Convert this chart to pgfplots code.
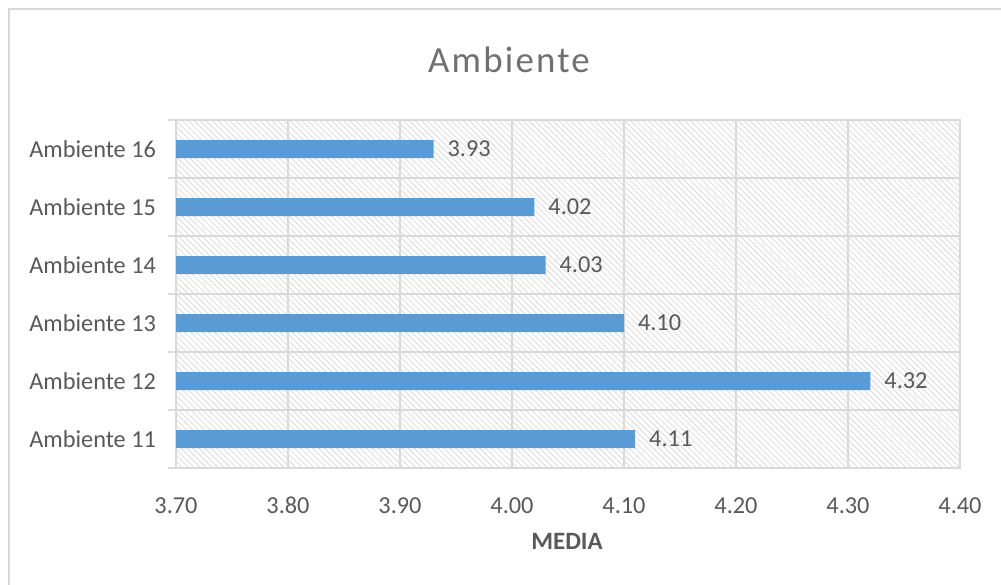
\documentclass[border=0pt]{standalone}
\usepackage{pgfplots}
\pgfplotsset{compat=1.18}
\usepackage{fontspec}
\setmainfont{Carlito}
\usetikzlibrary{patterns}
\definecolor{barblue}{HTML}{5B9BD5}
\definecolor{txt}{HTML}{595959}
\definecolor{titc}{HTML}{707070}
\definecolor{gridc}{HTML}{D9D9D9}
\definecolor{hatch}{HTML}{DCDCDC}
\begin{document}
\begin{tikzpicture}[x=1bp,y=1bp]
\useasboundingbox (0,0) rectangle (500.5,292);
\fill[white] (0,0) rectangle (500.5,292);
\draw[gridc, line width=1bp] (4.5,-2) -- (4.5,287.5) -- (503,287.5);
\node[titc, font=\fontsize{18.5}{22}\selectfont\addfontfeatures{LetterSpace=6}] at (254.5,262) {Ambiente};
\begin{axis}[
  at={(88bp,58bp)}, anchor=south west, scale only axis,
  width=392bp, height=174bp,
  xbar, bar width=9bp,
  xmin=3.7, xmax=4.4, ymin=-0.5, ymax=5.5,
  xtick={3.7,3.8,3.9,4.0,4.1,4.2,4.3,4.4},
  ytick={0,1,2,3,4,5},
  yticklabels={Ambiente 11,Ambiente 12,Ambiente 13,Ambiente 14,Ambiente 15,Ambiente 16},
  minor ytick={-0.5,0.5,1.5,2.5,3.5,4.5,5.5},
  xmajorgrids=true, ymajorgrids=false, yminorgrids=true,
  grid style={draw=gridc, line width=1bp},
  minor grid style={draw=gridc, line width=1bp},
  axis line style={draw=gridc, line width=1bp},
  major tick length=0pt, minor tick length=4bp,
  tick align=outside, ytick pos=left, xtick pos=bottom,
  minor tick style={draw=gridc, line width=1bp},
  axis background/.style={pattern=north west lines, pattern color=hatch},
  /pgf/number format/assume math mode=true,
  xticklabel={\pgfmathprintnumber[fixed,fixed zerofill,precision=2]{\tick}},
  ticklabel style={font=\fontsize{12.2}{14}\selectfont, text=txt},
  xticklabel style={anchor=north, text height=9bp, text depth=0bp, yshift=-10bp},
  yticklabel style={xshift=-6.5bp},
  nodes near coords,
  nodes near coords style={font=\fontsize{12.2}{14}\selectfont, text=txt, anchor=west, xshift=3.5bp},
  every node near coord/.append style={/pgf/number format/.cd, fixed, fixed zerofill, precision=2},
]
\addplot[fill=barblue, draw=none] coordinates {
  (4.11,0) (4.32,1) (4.10,2) (4.03,3) (4.02,4) (3.93,5)
};
\end{axis}
\node[txt, font=\fontsize{12.5}{14}\bfseries] at (283.5,21.5) {MEDIA};
\end{tikzpicture}
\end{document}
